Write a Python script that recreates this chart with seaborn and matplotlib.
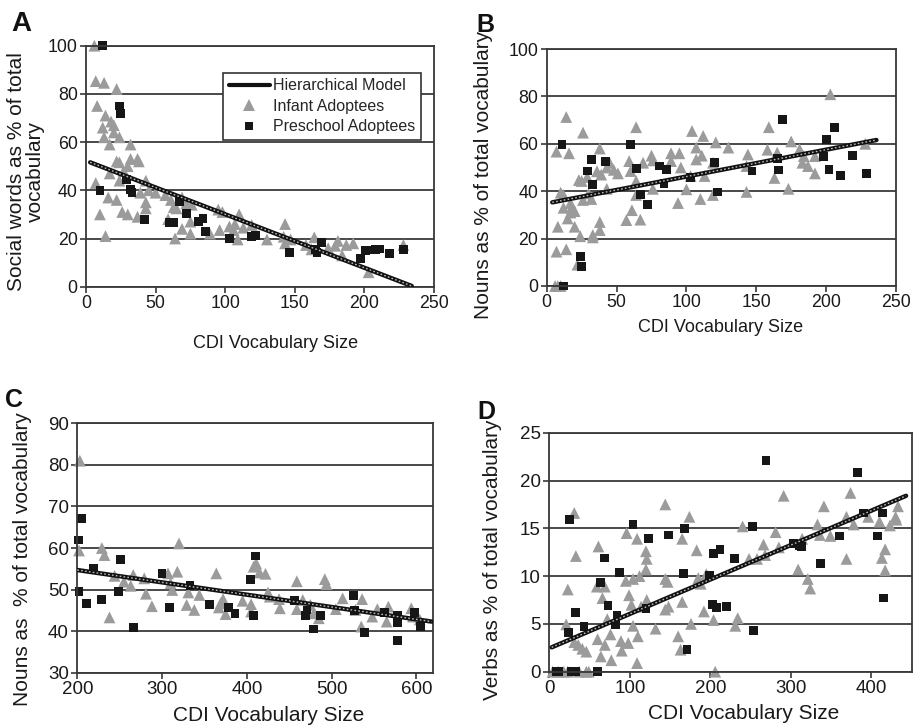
import matplotlib
matplotlib.use("Agg")
import matplotlib.pyplot as plt
import seaborn as sns
import pandas as pd
from matplotlib.lines import Line2D

# ---------------- Data ----------------
# Panel A: social words (% of vocabulary) vs CDI vocabulary size (0-250)
a_inf_x = [6, 7, 13, 22, 8, 14, 12, 18, 20, 13, 20, 24, 17, 32, 22, 24, 32, 37, 38, 30,
           27, 24, 17, 7, 43, 45, 50, 39, 16, 22, 10, 26, 30, 37, 43, 43, 14, 57, 61, 63,
           65, 59, 64, 69, 72, 76, 75, 69, 75, 89, 95, 98, 96, 103, 107, 106, 110, 109, 113, 119,
           130, 143, 142, 147, 143, 158, 164, 162, 174, 181, 184, 187, 192, 203, 228, 179]
a_inf_y = [100, 85.3, 84.6, 82, 75, 71, 66, 68.5, 67, 62, 64, 62, 59, 59, 52, 51.6, 53, 53, 52, 50,
           48, 44, 47, 43, 44, 40, 39, 39, 37, 36, 30, 31, 30, 29, 35, 32.5, 21, 38, 36, 33,
           32.5, 28, 20, 37, 34.6, 34, 27, 24, 22, 22, 32, 31, 23.5, 25, 26, 23.5, 30, 19.6, 24.5, 25.6,
           19.6, 26, 20.7, 19.6, 18, 17.3, 20.5, 15.5, 16, 19, 13, 17.3, 18, 6, 17.3, 17]
a_pre_x = [12, 24, 25, 29, 32, 33, 10, 42, 67, 60, 63, 72, 81, 84, 86, 103, 119, 122, 146, 165,
           166, 169, 197, 201, 205, 208, 211, 218, 228]
a_pre_y = [100, 75, 72, 44.5, 40.4, 39, 39.8, 28, 35.5, 26.7, 26.7, 30.4, 27, 28.4, 23, 20, 20.7, 21.4, 14.2, 15.5,
           14.2, 18.3, 11.8, 15, 15.2, 15.5, 15.6, 13.8, 15.5]
a_model_x = [3, 234]
a_model_y = [51.6, 0.3]

# Panel B: nouns (%) vs CDI vocabulary size (0-250)
b_inf_x = [7, 6, 8, 10, 8, 7, 10, 14, 14, 12, 12, 15, 16, 17, 18, 17, 20, 20, 22, 23,
           25, 24, 26, 26, 29, 30, 32, 33, 33, 36, 38, 38, 38, 39, 43, 43, 45, 48, 51, 57,
           59, 61, 60, 64, 64, 64, 67, 69, 75, 76, 76, 89, 89, 94, 95, 96, 100, 103, 104, 107,
           107, 110, 111, 112, 113, 119, 121, 119, 130, 143, 144, 143, 159, 158, 163, 165, 173, 175, 181, 183,
           184, 187, 192, 192, 203, 228]
b_inf_y = [14.5, 0, 0, 0, 25, 56.7, 39.4, 71.3, 15.5, 38.4, 33, 28.5, 56, 35, 33, 31, 31.6, 25, 9, 44.7,
           44.3, 21, 64.7, 36.3, 46, 39, 36.7, 21.5, 20.5, 48.4, 27, 23.6, 58, 47, 41, 50, 52, 49, 47.5, 27.8,
           52.7, 32, 48.5, 44.3, 67, 38.4, 28, 52, 55, 41, 53, 56, 52.7, 35, 56, 50, 40.8, 46.4, 65.4, 58.4,
           53.4, 36.7, 55, 63.3, 46.4, 52, 60.6, 38.4, 58.4, 39.7, 55.5, 50.6, 67, 57.5, 45.6, 56.3, 41, 61, 57.7, 52,
           54.8, 50.6, 54.8, 47.5, 80.9, 60]
b_pre_x = [11, 12, 24, 25, 29, 32, 33, 42, 60, 64, 67, 72, 81, 86, 84, 103, 120, 122, 147, 165,
           166, 169, 198, 200, 202, 206, 210, 219, 229]
b_pre_y = [59.6, 0, 12.4, 8.2, 48.5, 53.4, 42.8, 52.5, 59.6, 49.6, 38.7, 34.5, 50.6, 49, 43.3, 45.7, 52, 39.7, 48.5, 53.9,
           48.9, 70.3, 54.8, 61.9, 49.2, 67, 46.7, 55.1, 47.5]
b_model_x = [4, 236]
b_model_y = [35.3, 61.6]

# Panel C: nouns (%) vs CDI vocabulary size (200-620)
c_inf_x = [203, 202, 229, 232, 238, 244, 255, 263, 266, 279, 281, 288, 307, 310, 312, 318, 320, 329, 331, 338,
           344, 364, 367, 369, 372, 375, 395, 405, 405, 408, 411, 415, 422, 425, 427, 438, 439, 459, 459, 466,
           475, 479, 485, 492, 494, 505, 513, 528, 536, 535, 548, 554, 565, 567, 594, 596, 604]
c_inf_y = [81, 59.4, 60, 58.3, 43.3, 53.3, 51.9, 50.9, 53.5, 52.7, 49, 46, 53.9, 51.5, 49.9, 54.3, 61.1, 46.3, 49.3, 45.1,
           48.7, 53.9, 45.7, 46.7, 47.7, 44.1, 47.3, 46.5, 44.7, 55.5, 56.3, 54.1, 53.8, 49.3, 48.3, 47.7, 45.5, 52, 45.3, 47.5,
           46.3, 44.3, 43.1, 52.5, 51.3, 45.3, 47.9, 45.1, 47.7, 41.1, 43.5, 45.3, 42.3, 45.9, 45.5, 43.5, 42.8]
c_pre_x = [201, 205, 202, 211, 219, 229, 249, 251, 266, 300, 309, 333, 356, 378, 386, 404, 410, 408, 456, 471,
           469, 479, 487, 526, 527, 539, 562, 578, 578, 578, 598, 605]
c_pre_y = [61.9, 67.1, 49.5, 46.7, 55, 47.7, 49.5, 57.3, 40.9, 53.9, 45.7, 50.9, 46.5, 45.7, 44.3, 52.5, 58.1, 43.7, 47.3, 45.1,
           43.7, 40.5, 43.7, 48.5, 44.9, 39.7, 44.5, 43.9, 42.1, 37.7, 44.5, 41.2]
c_model_x = [200, 618]
c_model_y = [54.7, 42.3]

# Panel D: verbs (%) vs CDI vocabulary size (0-450)
d_inf_x = [4, 11, 18, 23, 37, 46, 49, 21, 23, 31, 33, 31, 36, 41, 46, 59, 61, 60, 64, 66,
           69, 69, 72, 76, 77, 89, 90, 96, 95, 99, 98, 102, 104, 104, 109, 109, 110, 112, 114, 120,
           121, 120, 121, 132, 144, 144, 147, 144, 148, 160, 163, 165, 165, 174, 176, 183, 185, 188, 192, 195,
           204, 206, 231, 234, 240, 248, 258, 266, 268, 281, 285, 291, 309, 314, 321, 324, 333, 336, 341, 349,
           369, 369, 374, 378, 396, 410, 413, 417, 417, 423, 430, 433, 431]
d_inf_y = [0, 0, 0, 0, 0, 0, 0, 4.95, 8.6, 16.6, 12.1, 3.1, 2.8, 2.4, 2.1, 8.9, 13.1, 3.4, 1.6, 7.7,
           8.9, 2.8, 5.5, 3.9, 1.2, 3.2, 2.2, 14.5, 9.5, 8.0, 3.0, 7.0, 9.7, 4.8, 13.9, 0.9, 3.7, 10.0, 6.8, 12.6,
           11.8, 10.7, 7.5, 4.5, 17.5, 9.7, 9.4, 6.5, 6.8, 3.7, 2.3, 13.9, 7.3, 16.2, 5.0, 12.7, 9.8, 9.2, 6.3, 10.2,
           5.4, 0, 4.8, 5.6, 15.2, 11.8, 11.8, 13.3, 12.2, 14.6, 13.0, 18.4, 10.7, 13.9, 9.7, 8.7, 15.4, 14.3, 17.3, 14.2,
           11.8, 16.2, 18.7, 15.4, 16.2, 15.7, 11.9, 12.8, 10.6, 15.3, 16.2, 17.3, 15.9]
d_pre_x = [9, 12, 28, 33, 60, 25, 24, 33, 43, 64, 69, 73, 84, 82, 87, 104, 120, 123, 148, 167,
           168, 171, 199, 204, 203, 208, 212, 220, 230, 252, 254, 269, 303, 310, 313, 337, 360, 383, 390, 408,
           414, 415]
d_pre_y = [0, 0, 0, 0, 0, 15.9, 4.1, 6.2, 4.7, 9.3, 11.9, 6.9, 5.9, 4.9, 10.4, 15.4, 6.6, 13.9, 14.3, 10.3,
           15.0, 2.3, 10.1, 12.4, 7.0, 6.7, 12.8, 6.8, 11.8, 15.2, 4.3, 22.1, 13.4, 13.2, 13.1, 11.3, 14.2, 20.8, 16.6, 14.2,
           16.6, 7.7]
d_model_x = [3, 443]
d_model_y = [2.55, 18.4]

series_names = ["Hierarchical Model", "Infant Adoptees", "Preschool Adoptees"]
xlabel = "CDI Vocabulary Size"
ylabels = ["Social words as % of total\nvocabulary", "Nouns as % of total vocabulary",
           "Nouns as  % of total vocabulary", "Verbs as % of total vocabulary"]
panel_letters = ["A", "B", "C", "D"]

# ---------------- Style ----------------
sns.set_theme(style="white")
plt.rcParams["font.family"] = ["Liberation Sans", "DejaVu Sans"]

TRI_COLOR = "#9b9b9b"
SQ_COLOR = "#161616"
LINE_COLOR = "#383838"

W, H = 917, 727
fig = plt.figure(figsize=(W / 100, H / 100), dpi=100)


def ax_px(left, top, right, bottom):
    return fig.add_axes([left / W, 1 - bottom / H, (right - left) / W, (bottom - top) / H])


axA = ax_px(86, 45.7, 434, 286.7)
axB = ax_px(546.7, 49, 896, 286)
axC = ax_px(77.3, 423.3, 433.3, 672.7)
axD = ax_px(549.3, 432.7, 911.7, 671.7)

panels = [
    (axA, a_inf_x, a_inf_y, a_pre_x, a_pre_y, a_model_x, a_model_y, (0, 250), (0, 100), range(0, 251, 50), range(0, 101, 20)),
    (axB, b_inf_x, b_inf_y, b_pre_x, b_pre_y, b_model_x, b_model_y, (0, 250), (0, 100), range(0, 251, 50), range(0, 101, 20)),
    (axC, c_inf_x, c_inf_y, c_pre_x, c_pre_y, c_model_x, c_model_y, (200, 620), (30, 90), range(200, 601, 100), range(30, 91, 10)),
    (axD, d_inf_x, d_inf_y, d_pre_x, d_pre_y, d_model_x, d_model_y, (0, 450), (0, 25), range(0, 401, 100), range(0, 26, 5)),
]

for i, (ax, ix, iy, px, py, mx, my, xl, yl, xt, yt) in enumerate(panels):
    ax.set_xlim(*xl)
    ax.set_ylim(*yl)
    ax.set_xticks(list(xt))
    ax.set_yticks(list(yt))
    for y in yt:
        ax.axhline(y, color="#2a2a2a", lw=1.2, zorder=0.5)
    inf = pd.DataFrame({"x": ix, "y": iy})
    pre = pd.DataFrame({"x": px, "y": py})
    mod = pd.DataFrame({"x": mx, "y": my})
    sns.lineplot(data=mod, x="x", y="y", ax=ax, color="#111111", lw=3.2, zorder=3, legend=False)
    sns.lineplot(data=mod, x="x", y="y", ax=ax, color="#bbbbbb", lw=1.0, zorder=3.1,
                 linestyle=(0, (1.2, 1.6)), legend=False)
    sns.scatterplot(data=inf, x="x", y="y", ax=ax, marker="^", s=72, color=TRI_COLOR,
                    edgecolor="none", linewidth=0, zorder=2, legend=False, clip_on=False)
    sns.scatterplot(data=pre, x="x", y="y", ax=ax, marker="s", s=40, color=SQ_COLOR,
                    edgecolor="none", linewidth=0, zorder=2.5, legend=False, clip_on=False)
    for sp in ax.spines.values():
        sp.set_visible(True)
        sp.set_color(LINE_COLOR)
        sp.set_linewidth(1.3)
    ax.grid(False)
    big = i >= 2
    ax.tick_params(axis="both", which="major", direction="out", length=4, width=1.2,
                   color=LINE_COLOR, labelsize=13.5 if big else 12.8, pad=2,
                   labelcolor="#1a1a1a", bottom=True, left=True)
    ax.set_xlabel(xlabel, fontsize=15 if big else 13, color="#1a1a1a", va="center")
    ax.set_ylabel(ylabels[i], fontsize=15, color="#1a1a1a", va="center", linespacing=1.0)

axA.xaxis.set_label_coords(0.545, -0.234)
axB.xaxis.set_label_coords(0.498, -0.177)
axC.xaxis.set_label_coords(0.538, -0.170)
axD.xaxis.set_label_coords(0.536, -0.173)
axA.yaxis.set_label_coords(-0.172, 0.478)
axB.yaxis.set_label_coords(-0.180, 0.468)
axC.yaxis.set_label_coords(-0.153, 0.456)
axD.yaxis.set_label_coords(-0.158, 0.467)

# Legend in panel A
handles = [
    Line2D([], [], color="#111111", lw=3.0, linestyle="-"),
    Line2D([], [], marker="^", color=TRI_COLOR, lw=0, markersize=8.5, markeredgewidth=0),
    Line2D([], [], marker="s", color=SQ_COLOR, lw=0, markersize=6.3, markeredgewidth=0),
]
leg = axA.legend(handles, series_names, loc="upper right", bbox_to_anchor=(0.963, 0.888),
                 fontsize=11.5, frameon=True, fancybox=False, borderpad=0.35,
                 labelspacing=0.35, handlelength=2.6, handletextpad=0.2, borderaxespad=0)
leg.get_frame().set_edgecolor("#333333")
leg.get_frame().set_linewidth(1.2)
leg.get_frame().set_facecolor("white")
leg.get_frame().set_alpha(1)
leg.set_zorder(5)

# Panel letters
letters = [("A", 11, 30.7, 20), ("B", 476, 32.3, 18), ("C", 5, 406.7, 18), ("D", 477, 419, 18)]
for t, x, y, fs in letters:
    fig.text(x / W, 1 - y / H, t, fontsize=fs, fontweight="bold", ha="left", va="baseline", color="#111111")

fig.savefig("out.png", dpi=100)
